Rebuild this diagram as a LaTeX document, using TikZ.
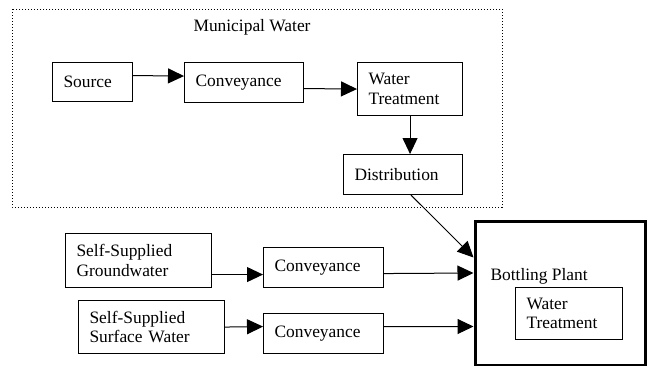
\documentclass[tikz,border=0pt]{standalone}
\usepackage{fontspec}
\setmainfont{Liberation Serif}
\usetikzlibrary{arrows.meta, positioning, calc}
\tikzset{>={Triangle[length=16pt,width=15pt]}}
\tikzset{
  every node/.style={font=\fontsize{17.4pt}{19.5pt}\selectfont},
  stage/.style={draw, line width=1.1pt, anchor=north west, align=left, inner xsep=11pt, inner ysep=0pt},
  flow/.style={->, line width=1pt},
}

\begin{document}
\begin{tikzpicture}[x=1pt, y=-1pt]
\useasboundingbox (0,0) rectangle (650,365);
% municipal supply
\draw[line width=0.8pt, dash pattern=on 1.2pt off 1.8pt] (12,9) rectangle (502,207);
\node[anchor=base west] (muni) at (190,31.5) {Municipal Water};
\node[stage, text width=58pt, minimum height=39pt] (src) at (52,62) {Source};
\node[stage, text width=97pt, minimum height=40pt] (conv) at (184,62) {Conveyance};
\node[stage, text width=83pt, minimum height=53pt] (wt) at (357,62) {Water\\Treatment};
\node[stage, text width=97pt, minimum height=40pt] (dist) at (343,154) {Distribution};
% self supplied
\node[stage, text width=124pt, minimum height=54pt] (gw) at (65,233) {Self-Supplied\\Groundwater};
\node[stage, text width=98pt, minimum height=40pt] (gwconv) at (263,247) {Conveyance};
\node[stage, text width=124pt, minimum height=53pt] (sw) at (78,300) {Self-Supplied\\Surface Water};
\node[stage, text width=98pt, minimum height=40pt] (swconv) at (263,313) {Conveyance};
% bottling plant
\node[draw, line width=3pt, anchor=north west, minimum width=170pt, minimum height=144pt] (plant) at (473.5,219.5) {};
\node[anchor=base west] (plantlbl) at (487,280) {Bottling Plant};
\node[stage, text width=85pt, minimum height=52pt] (pwt) at (515,287) {Water\\Treatment};

\draw[flow] ([yshift=6.5pt]src.east) -- ([yshift=6.5pt]conv.west);
\draw[flow] ([yshift=-6pt]conv.east) -- (wt.west);
\draw[flow] (wt.south) -- (wt.south |- dist.north);
\draw[flow] ([xshift=8pt]dist.south) -- ([yshift=35.5pt]plant.west);
\draw[flow] ([yshift=-14pt]gw.east) -- ([yshift=-7pt]gwconv.west);
\draw[flow] ([yshift=-6pt]gwconv.east) -- ([yshift=20pt]plant.west);
\draw[flow] (sw.east) -- ([yshift=7pt]swconv.west);
\draw[flow] ([yshift=7pt]swconv.east) -- ([yshift=-33.5pt]plant.west);
\end{tikzpicture}
\end{document}
